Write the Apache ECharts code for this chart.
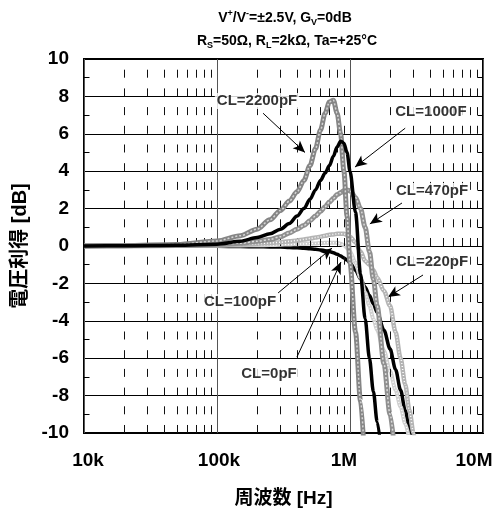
<!DOCTYPE html>
<html>
<head>
<meta charset="utf-8">
<script src="https://cdn.jsdelivr.net/npm/echarts@6/dist/echarts.min.js"></script>
<style>
html,body{margin:0;padding:0;background:#fff;}
#c{width:499px;height:513px;}
</style>
</head>
<body>
<div id="c"></div>
<script>
// ---- data ----
const freqs = [1e4, 2e4, 5e4, 1e5, 1.5e5, 2e5, 2.5e5, 3e5, 3.5e5, 4e5, 4.5e5, 5e5, 5.5e5, 6e5, 6.5e5, 7e5, 7.5e5, 8e5, 8.5e5, 9e5, 9.5e5, 1e6, 1.1e6, 1.2e6, 1.3e6, 1.4e6, 1.5e6, 1.6e6, 1.8e6, 2e6, 2.2e6, 2.4e6, 2.6e6, 2.8e6, 3e6, 3.3e6];

const gainCL0 = [0, 0, -0.01, -0.02, -0.03, -0.04, -0.05, -0.06, -0.08, -0.1, -0.12, -0.15, -0.18, -0.21, -0.25, -0.3, -0.36, -0.44, -0.53, -0.64, -0.76, -0.9, -1.3, -1.75, -2.2, -2.65, -3.1, -3.55, -4.5, -5.5, -6.6, -7.7, -8.8, -9.8, -10.8, null];
const gainCL100 = [0, 0, 0.01, 0.02, 0.03, 0.04, 0.05, 0.07, 0.08, 0.1, 0.11, 0.13, 0.14, 0.16, 0.17, 0.18, 0.18, 0.17, 0.12, 0.05, -0.1, -0.3, -0.9, -1.7, -2.5, -3.2, -3.9, -4.5, -5.6, -6.7, -7.7, -8.6, -9.5, -10.4, null, null];
const gainCL220 = [0, 0, 0.02, 0.05, 0.08, 0.12, 0.16, 0.2, 0.25, 0.3, 0.35, 0.4, 0.45, 0.5, 0.55, 0.6, 0.62, 0.65, 0.65, 0.65, 0.6, 0.5, 0.2, -0.3, -0.8, -1.0, -1.3, -1.7, -2.4, -3.2, -4.6, -6.0, -7.4, -8.8, -10.0, -11.8];
const gainCL470 = [0, 0.01, 0.03, 0.08, 0.15, 0.25, 0.35, 0.5, 0.7, 0.9, 1.1, 1.35, 1.6, 1.85, 2.1, 2.35, 2.55, 2.75, 2.85, 2.95, 3.0, 2.95, 2.6, 2.0, 1.0, -0.3, -1.8, -3.2, -6.3, -9.0, -11.5, null, null, null, null, null];
const gainCL1000 = [0, 0.01, 0.04, 0.1, 0.25, 0.45, 0.65, 0.9, 1.2, 1.6, 2.0, 2.5, 3.0, 3.5, 3.9, 4.3, 4.8, 5.3, 5.6, 5.5, 5.0, 4.0, 1.8, -1.5, -3.9, -6.0, -7.8, -9.4, -12.5, null, null, null, null, null, null, null];
const gainCL2200 = [0, 0.02, 0.08, 0.27, 0.55, 0.9, 1.4, 1.9, 2.4, 2.9, 3.5, 4.3, 5.2, 6.2, 7.1, 7.7, 7.8, 7.1, 6.0, 4.0, 1.6, -0.9, -4.6, -8.3, -12, null, null, null, null, null, null, null, null, null, null, null];

const xTickLabels = ['10k', '100k', '1M', '10M'];
const yTicks = [-10, -8, -6, -4, -2, 0, 2, 4, 6, 8, 10];

// annotation text with anchor (frequency, gain)
const annotText = ['CL=2200pF', 'CL=1000F', 'CL=470pF', 'CL=220pF', 'CL=100pF', 'CL=0pF'];
const annotFreq = [2.0e5, 4.06e6, 4.14e6, 4.14e6, 1.49e5, 2.46e5];
const annotGain = [7.75, 7.17, 2.94, -0.86, -2.99, -6.84];
// arrows: from (f,g) to (f,g)
const arrowFromFreq = [2.22e5, 2.6e6, 2.46e6, 3.54e6, 2.88e5, 3.99e5];
const arrowFromGain = [7.1, 6.3, 2.3, -1.55, -2.51, -5.94];
const arrowToFreq = [4.59e5, 1.09e6, 1.41e6, 1.93e6, 7.33e5, 8.55e5];
const arrowToGain = [5.0, 4.22, 1.18, -2.73, -0.11, -0.86];

// ---- chart ----
const FONT = '"Liberation Sans", Arial, "Noto Sans CJK JP", sans-serif';
const chart = echarts.init(document.getElementById('c'), null, {renderer: 'canvas'});

const zip = g => freqs.map((f, i) => [f, g[i]]);

// base stroke + optional texture overlay to imitate the patterned lines
const curveStyles = [
  {name: 'CL=0pF', g: gainCL0, color: '#000000', width: 3.5, z: 3},
  {name: 'CL=100pF', g: gainCL100, color: '#cfcfcf', width: 4, z: 4, tex: '#ffffff', texType: [1, 2]},
  {name: 'CL=220pF', g: gainCL220, color: '#b4b4b4', width: 4.5, z: 5, tex: '#ffffff', texType: [1, 2]},
  {name: 'CL=470pF', g: gainCL470, color: '#8f8f8f', width: 5, z: 6, tex: '#dcdcdc', texType: [2, 2]},
  {name: 'CL=2200pF', g: gainCL2200, color: '#858585', width: 5, z: 7, tex: '#d6d6d6', texType: [2, 2]},
  {name: 'CL=1000pF', g: gainCL1000, color: '#000000', width: 3.5, z: 8}
];

const minorX = [];
for (let n = 4; n < 7; n++) for (let k = 2; k <= 9; k++) minorX.push(k * Math.pow(10, n));

const series = [];
series.push({
  type: 'line', data: [], silent: true, z: 1,
  markLine: {
    silent: true, symbol: ['none', 'none'], animation: false,
    label: {show: false},
    lineStyle: {color: '#111', width: 1, type: [8, 10.7], dashOffset: 0},
    data: minorX.map(v => ({xAxis: v}))
  }
});
// small minor ticks at odd dB values on left and right frame
series.push({
  type: 'line', data: [], silent: true, z: 1,
  markLine: {
    silent: true, symbol: ['none', 'none'], animation: false, label: {show: false},
    lineStyle: {color: '#000', width: 1, type: 'solid'},
    data: [-9, -7, -5, -3, -1, 1, 3, 5, 7, 9].flatMap(v => [
      [{coord: [1e4, v]}, {coord: [1.1e4, v]}],
      [{coord: [9.1e6, v]}, {coord: [1e7, v]}]
    ])
  }
});
curveStyles.forEach(c => {
  series.push({
    name: c.name, type: 'line', data: zip(c.g), showSymbol: false, symbol: 'none',
    smooth: 0.3, smoothMonotone: 'x', clip: true, z: c.z, silent: true,
    lineStyle: {color: c.color, width: c.width}, connectNulls: false
  });
  if (c.tex) {
    series.push({
      type: 'line', data: zip(c.g), showSymbol: false, symbol: 'none',
      smooth: 0.3, smoothMonotone: 'x', clip: true, z: c.z, silent: true,
      lineStyle: {color: c.tex, width: 1.5, type: c.texType}, connectNulls: false
    });
  }
});
series.push({
  type: 'scatter', z: 10, symbolSize: 1, itemStyle: {color: 'rgba(0,0,0,0)'},
  silent: true,
  data: annotText.map((t, i) => [annotFreq[i], annotGain[i], t]),
  label: {show: true, position: 'inside', formatter: p => p.data[2],
          color: '#000', fontSize: 15, fontWeight: 'bold', fontFamily: FONT,
          backgroundColor: '#fff', padding: [1, 2, 0, 2]},
  markLine: {
    silent: true, animation: false, symbol: ['none', 'arrow'], symbolSize: [0, 10],
    label: {show: false},
    lineStyle: {color: '#000', width: 1, type: 'solid'},
    data: arrowFromFreq.map((f, i) => [
      {coord: [f, arrowFromGain[i]], symbol: 'none'},
      {coord: [arrowToFreq[i], arrowToGain[i]], symbol: 'arrow', symbolSize: [8, 12]}
    ])
  }
});

const xOffsets = [[0,0,0,8],[0,0,0,4],[0,12,0,0],[0,18,0,0]];
const xRich = {};
xOffsets.forEach((p, i) => { xRich['l' + i] = {padding: p, fontSize: 19, fontWeight: 'bold', fontFamily: FONT, color: '#000'}; });

chart.setOption({
  animation: false,
  backgroundColor: '#fff',
  grid: {left: 84, right: 16, top: 59, bottom: 80, show: true, borderColor: '#000', borderWidth: 2, backgroundColor: 'transparent'},
  xAxis: {
    type: 'log', logBase: 10, min: 1e4, max: 1e7,
    axisLine: {show: false}, axisTick: {show: false},
    splitLine: {show: true, lineStyle: {color: '#555', width: 1}},
    axisLabel: {
      margin: 18, fontSize: 19, fontWeight: 'bold', fontFamily: FONT, color: '#000',
      formatter: v => { const i = Math.round(Math.log10(v)) - 4; return '{l' + i + '|' + xTickLabels[i] + '}'; },
      rich: xRich
    },
    name: '周波数 [Hz]', nameLocation: 'middle', nameGap: 56,
    nameTextStyle: {fontSize: 19, fontWeight: 'bold', fontFamily: FONT, color: '#000'}
  },
  yAxis: {
    type: 'value', min: -10, max: 10, interval: 2,
    axisLine: {show: false},
    axisTick: {show: false},
    splitLine: {show: true, lineStyle: {color: '#000', width: 1}},
    axisLabel: {margin: 15, fontSize: 19, fontWeight: 'bold', fontFamily: FONT, color: '#000',
      formatter: v => yTicks.indexOf(v) >= 0 ? String(v) : ''},
    name: '電圧利得 [dB]', nameLocation: 'middle', nameGap: 52, nameRotate: 90,
    nameTextStyle: {fontSize: 20, fontWeight: 'bold', fontFamily: FONT, color: '#000'}
  },
  graphic: [
    {type: 'text', x: 285, y: 18, silent: true,
     style: {text: '{b|V}{sup|+}{b|/V}{sup|-}{b|=±2.5V, G}{sub|V}{b|=0dB}', align: 'center', verticalAlign: 'middle',
       rich: {b: {fontSize: 14, fontWeight: 'bold', fontFamily: FONT, fill: '#000', lineHeight: 18, verticalAlign: 'middle'},
              sup: {fontSize: 9, fontWeight: 'bold', fontFamily: FONT, fill: '#000', verticalAlign: 'top'},
              sub: {fontSize: 9, fontWeight: 'bold', fontFamily: FONT, fill: '#000', verticalAlign: 'bottom'}}}},
    {type: 'text', x: 287, y: 41, silent: true,
     style: {text: '{b|R}{sub|S}{b|=50Ω, R}{sub|L}{b|=2kΩ, Ta=+25°C}', align: 'center', verticalAlign: 'middle',
       rich: {b: {fontSize: 14, fontWeight: 'bold', fontFamily: FONT, fill: '#000', lineHeight: 18, verticalAlign: 'middle'},
              sub: {fontSize: 9, fontWeight: 'bold', fontFamily: FONT, fill: '#000', verticalAlign: 'bottom'}}}}
  ],
  series: series
});
</script>
</body>
</html>
